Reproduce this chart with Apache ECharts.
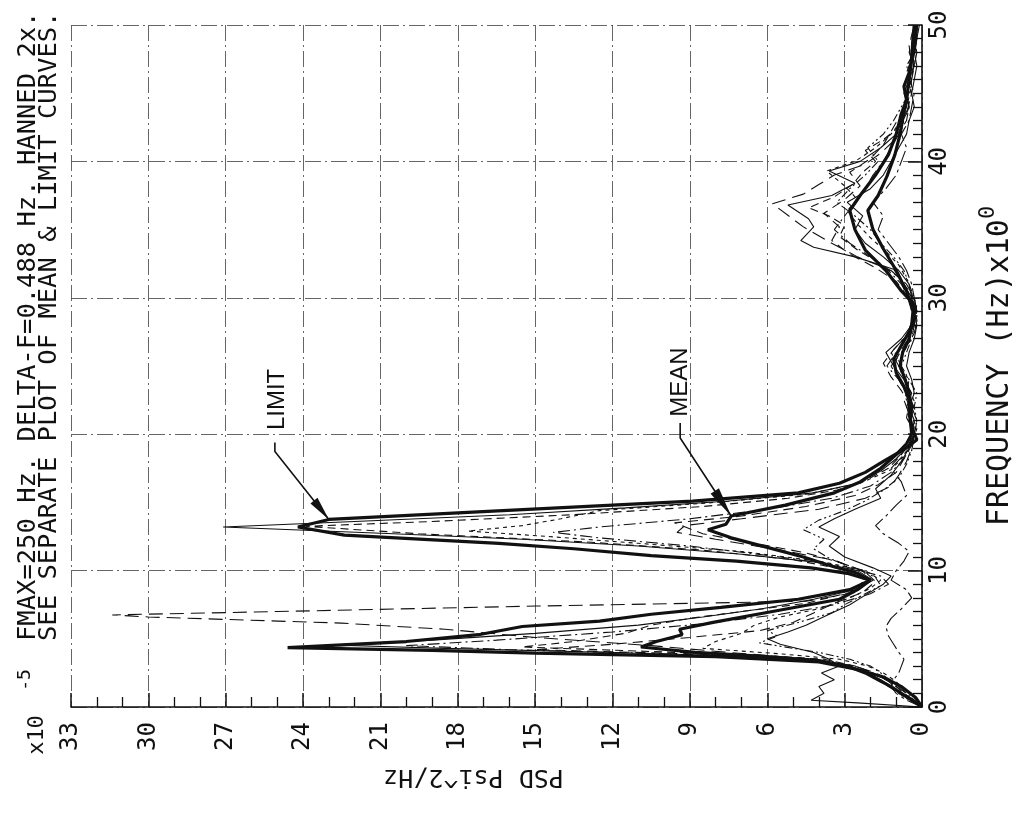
<!DOCTYPE html>
<html>
<head>
<meta charset="utf-8">
<script src="https://cdn.jsdelivr.net/npm/echarts@6/dist/echarts.min.js"></script>
<style>
  html, body { margin: 0; padding: 0; background: #fff; }
  #chart { width: 1018px; height: 813px; }
</style>
</head>
<body>
<div id="chart"></div>
<script>
// PSD curves as [frequency (Hz x10), PSD (x10^-5 psi^2/Hz)]
const run1 = [[0,0],[0.5,0.3],[1,0.6],[1.5,0.9],[2,1.3],[2.5,1.8],[3,2.6],[3.5,4.2],[4,7.5],[4.5,10.5],[5.1,15],[5.7,18.5],[6.15,22.5],[6.6,30],[6.75,31.4],[7.0,25],[7.4,15],[7.75,4.5],[8.4,2.6],[9.3,2.0],[10,2.3],[10.8,3.5],[11.5,5.5],[12.3,8],[12.8,9.5],[13.3,9.2],[13.8,7],[14.5,4],[15.3,2.2],[16.2,1.2],[17,0.9],[18,0.6],[19,0.4],[20,0.3],[21,0.5],[22,0.3],[23,0.6],[24,0.9],[25,1.2],[26,0.8],[27,0.4],[28,0.3],[29,0.2],[30,0.3],[31,0.6],[32,1.2],[33,2.5],[34,3.5],[35.2,4.6],[36.9,5.8],[37.6,4.6],[38.3,4.0],[39,3.4],[39.8,2.2],[40.6,1.6],[41.5,1.1],[42.5,0.8],[44,0.5],[45,0.6],[46,0.4],[47.5,0.3],[49,0.2],[50,0.2]];
const run2 = [[0,0],[0.5,0.4],[1,0.8],[1.5,1.2],[2,1.6],[2.5,2.1],[3,2.8],[3.4,4],[3.7,6.5],[4.0,12],[4.3,18.5],[4.55,22.9],[4.9,19],[5.4,15],[6,11],[6.6,8.5],[7.2,6.2],[7.9,4.2],[8.6,2.6],[9.3,1.9],[10,2.5],[10.6,4],[11.2,7],[11.8,11],[12.3,15.5],[12.7,20.5],[13.2,27.1],[13.6,22],[14.1,16],[14.6,11.5],[15.1,7.5],[15.7,4.2],[16.4,2.5],[17.3,1.6],[18.2,1.0],[19,0.6],[20,0.3],[21,0.4],[22,0.6],[23,0.4],[24,0.7],[25,1.1],[26,1.4],[27,0.8],[28,0.4],[29,0.3],[30,0.4],[31,0.7],[32.1,1.1],[33.0,2.6],[33.7,4.2],[34.2,4.7],[35.2,4.2],[35.8,4.4],[36.8,5.2],[37.5,3.5],[38.4,2.6],[39.3,3.6],[40,2.4],[41,1.6],[42,1.0],[43,0.8],[44,0.5],[45,0.7],[46,0.5],[47,0.3],[48.5,0.4],[50,0.3]];
const run3 = [[0,0],[0.5,0.3],[1,0.7],[1.5,1.0],[2,1.4],[2.5,1.9],[3,2.6],[3.5,3.8],[3.8,6.5],[4.1,11],[4.4,15.5],[4.8,13.5],[5.4,11.5],[6,10.5],[6.5,9],[7,7],[7.6,4.5],[8.4,2.8],[9.3,2.2],[10,2.8],[10.8,5],[11.5,8.5],[12.1,13],[12.7,19.5],[13.25,23.9],[13.6,19],[14.1,13.5],[14.7,8.5],[15.3,5.2],[15.9,3.3],[16.6,2.2],[17.5,1.3],[18.5,0.8],[19.5,0.4],[20.5,0.3],[21.5,0.5],[22.5,0.7],[23.5,0.5],[24.5,0.8],[25.5,1.0],[26.5,0.7],[27.5,0.4],[28.5,0.3],[29.5,0.2],[30.5,0.5],[31.5,0.9],[32.5,1.6],[33.5,2.5],[34.5,3.2],[35.3,3.0],[36,3.6],[36.6,4.4],[37.4,3.4],[38.3,2.7],[39.2,2.3],[40,1.8],[40.8,2.2],[41.6,1.5],[42.5,0.9],[43.5,0.6],[45,0.4],[46.5,0.6],[48,0.3],[50,0.2]];
const run4 = [[0,0],[0.5,0.2],[1,0.5],[1.5,0.8],[2,1.1],[2.5,1.5],[3,2.1],[3.5,3.2],[3.9,5.5],[4.3,8.5],[4.8,8],[5.4,7],[6,6.5],[6.6,5.5],[7.2,4],[8,2.8],[8.7,2.0],[9.3,1.6],[10,2.2],[10.7,4],[11.4,7],[12,11],[12.5,14.5],[12.9,17.6],[13.3,15.5],[13.8,14],[14.4,12.5],[15,8],[15.6,4.5],[16.4,2.4],[17.4,1.2],[18.4,0.7],[19.4,0.4],[20.4,0.2],[21.4,0.4],[22.4,0.3],[23.4,0.5],[24.4,0.7],[25.4,0.9],[26.4,0.6],[27.4,0.3],[28.4,0.2],[29.4,0.3],[30.4,0.4],[31.4,0.6],[32.4,0.9],[33.4,1.4],[34.4,2.0],[35.4,2.5],[36.4,2.9],[37.2,2.5],[38.2,3.0],[39.3,3.7],[40,2.6],[41,1.8],[42,1.2],[43,0.8],[44,0.6],[45.5,0.4],[47,0.5],[48.5,0.3],[50,0.2]];
const run5 = [[0,0],[0.5,0.3],[1,0.6],[1.5,1.0],[2,1.4],[2.5,1.9],[3,2.6],[3.5,4.5],[3.9,10],[4.2,16],[4.5,20],[4.9,16.5],[5.5,12],[6.1,8.5],[6.8,5.5],[7.5,3.4],[8.3,2.0],[9,1.3],[9.6,1.6],[10.3,3],[11,5.5],[11.8,9],[12.4,12.5],[12.8,14.3],[13.2,12.5],[13.8,9],[14.5,6],[15.3,3.5],[16.2,2.0],[17.2,1.2],[18.2,0.7],[19.2,0.4],[20.2,0.3],[21,0.5],[22,0.4],[23,0.6],[24,0.9],[25,1.36],[26,1.0],[27,0.6],[28,0.3],[29,0.4],[30,0.5],[31,0.8],[32,1.3],[33,2.0],[34,2.8],[35,3.4],[36,3.0],[37,2.6],[38,2.2],[39,1.9],[40,1.5],[41,1.2],[42,0.9],[43,0.6],[44,0.5],[45,0.6],[46,0.4],[47,0.3],[48,0.5],[49,0.3],[50,0.2]];
const run6 = [[0,0],[0.3,2.5],[0.5,4.3],[1.0,3.8],[1.5,4.0],[2.0,3.4],[2.5,3.9],[3.0,3.2],[3.5,3.6],[4.0,4.2],[4.6,5.5],[5.0,6.0],[5.5,5.2],[6.0,4.5],[6.8,3.6],[7.5,2.8],[8.2,2.2],[9.0,1.5],[9.6,1.2],[10.2,1.9],[11,3.0],[11.8,3.6],[12.5,3.2],[13.2,4.0],[13.8,3.4],[14.5,2.6],[15.3,1.6],[16,1.8],[17,1.2],[18,0.8],[19,0.5],[20,0.4],[21,0.3],[22,0.5],[23,0.3],[24,0.4],[25,0.6],[26,0.5],[27,0.3],[28,0.2],[29,0.3],[30,0.4],[31,0.5],[32,0.9],[33,1.5],[34,2.2],[35,2.6],[36,2.3],[37,2.9],[38,2.0],[39,1.5],[40,1.2],[41,0.9],[42,0.6],[43,0.5],[44,0.3],[45,0.4],[46,0.3],[47,0.2],[48,0.3],[49,0.2],[50,0.1]];
const run7 = [[0,0],[0.5,0.6],[1,1.0],[1.5,1.2],[2,1.1],[2.5,0.9],[3,0.8],[3.5,0.7],[4,0.9],[4.6,1.1],[5.2,1.3],[5.9,1.4],[6.5,1.2],[7.2,0.8],[8,0.4],[8.6,0.6],[9.3,1.2],[10,1.0],[10.7,0.7],[11.4,0.5],[12,0.9],[12.7,1.5],[13.3,1.8],[14,1.4],[14.8,1.0],[15.5,0.6],[16.5,0.8],[17.5,1.2],[18.3,0.8],[19,0.5],[20,0.3],[21,0.2],[22,0.4],[23,0.6],[24,0.5],[25,0.9],[26,1.2],[27,0.7],[28,0.3],[29,0.2],[30,0.3],[31,0.4],[32,0.6],[33,0.9],[34,1.3],[35,1.7],[36,1.5],[37,1.9],[38,1.4],[39,1.0],[40,0.8],[41,0.6],[42,0.8],[43,0.5],[44,0.4],[45,0.3],[46,0.5],[47,0.3],[48,0.2],[49,0.3],[50,0.2]];
const run8 = [[0,0],[0.5,0.4],[1,0.9],[1.5,1.3],[2,1.7],[2.5,2.2],[3,3.0],[3.5,4.6],[3.9,9],[4.2,15],[4.6,12],[5.1,9],[5.6,6.3],[6.2,5],[6.9,4.2],[7.6,3.4],[8.4,2.3],[9.2,1.8],[9.9,2.2],[10.6,3.2],[11.3,4.5],[12,6.5],[12.7,8.5],[13.5,9.6],[14,7],[14.7,4.5],[15.5,2.6],[16.3,1.7],[17.2,1.0],[18.2,0.7],[19.2,0.4],[20.2,0.3],[21.2,0.6],[22.2,0.5],[23.2,0.8],[24.2,1.2],[25.2,1.5],[26.2,1.1],[27.2,0.6],[28.2,0.4],[29.2,0.3],[30.2,0.6],[31.2,1.0],[32.2,1.8],[33.2,2.8],[34.2,3.5],[35.2,3.2],[36.2,3.8],[37.2,3.0],[38.2,2.4],[39.2,2.8],[40.2,2.0],[41.2,1.5],[42.2,1.2],[43.2,0.9],[44.2,0.6],[45.5,0.5],[47,0.4],[48.5,0.5],[50,0.3]];
const run9 = [[0,0],[0.5,0.5],[1,0.9],[1.5,1.1],[2,1.3],[2.5,1.6],[3,2.0],[3.5,2.8],[4,4.0],[4.7,6.3],[5.2,5.6],[5.6,6.0],[6.2,4.8],[6.9,3.5],[7.5,3.0],[8.2,2.3],[8.9,1.6],[9.5,1.8],[10.2,2.6],[10.9,3.6],[11.6,4.2],[12.3,3.8],[13,4.6],[13.7,4.0],[14.4,3.0],[15.1,2.2],[15.9,1.5],[16.8,0.9],[17.8,0.6],[18.8,0.4],[19.8,0.3],[21,0.2],[22,0.3],[23,0.2],[24,0.5],[25,0.8],[26,0.6],[27,0.4],[28,0.2],[29,0.2],[30,0.3],[31,0.5],[32,0.7],[33,1.1],[34,1.6],[35,2.0],[36,2.6],[37,3.3],[38,2.8],[39,2.2],[40,1.7],[41,2.1],[42,1.5],[43,1.1],[44,0.8],[45,0.5],[46,0.4],[47,0.6],[48,0.3],[49,0.2],[50,0.2]];
const meanCurve = [[0,0],[0.5,0.4],[1,0.8],[1.5,1.2],[2,1.7],[2.5,2.2],[3,2.9],[3.4,4.0],[3.7,6.0],[4.0,8.8],[4.4,10.9],[4.8,10.3],[5.3,9.3],[5.7,9.4],[6.2,8.1],[7.0,5.8],[7.9,3.2],[8.6,2.5],[9.3,2.0],[9.8,2.5],[10.3,3.45],[11.0,4.6],[11.7,6.0],[12.4,7.4],[13.0,8.3],[13.4,7.6],[14.0,7.4],[14.8,5.3],[15.7,3.4],[16.5,2.4],[17.5,1.6],[18.5,1.0],[19.3,0.6],[20,0.4],[21,0.45],[22,0.4],[23,0.5],[24,0.65],[25,0.85],[26,0.75],[27,0.5],[28,0.4],[29,0.35],[30.4,0.58],[32,1.0],[33.6,1.5],[35,1.9],[36.4,2.1],[37.5,1.7],[38.9,1.36],[40.5,1.05],[42,0.85],[43.2,0.74],[44.5,0.6],[46,0.5],[47.5,0.4],[49,0.35],[50,0.3]];
const limitCurve = [[0,0],[0.7,0.25],[1.5,0.8],[2.2,1.5],[2.8,2.6],[3.3,4.0],[3.7,8],[3.95,15],[4.15,19],[4.35,24.6],[4.8,20],[5.3,17.2],[5.9,15.5],[6.3,12.5],[6.8,10.5],[7.3,7.8],[7.9,4.8],[8.6,2.8],[9.3,2.0],[9.8,2.9],[10.2,4.3],[10.7,7.2],[11.1,10.5],[11.6,13.5],[12.0,16.4],[12.6,22.4],[13.2,24.2],[13.75,23.0],[14.5,15.1],[15.1,8.9],[15.7,4.8],[16.4,3.2],[17.2,2.2],[18.0,1.5],[19.0,0.6],[19.6,0.2],[20.5,0.4],[21.5,0.5],[22.5,0.5],[23.5,0.7],[24.5,1.0],[25.5,1.1],[26.5,0.8],[27.5,0.5],[28.5,0.3],[29.5,0.3],[30.5,0.8],[32,1.4],[33.5,2.2],[35,2.6],[36.4,2.8],[37.5,2.4],[39,1.8],[40.5,1.3],[42,1.0],[43.5,0.8],[44.5,0.6],[45.5,0.7],[46.5,0.5],[47.5,0.4],[48.5,0.3],[50,0.2]];

// Axis ranges and tick spacing
const psdRange = [0, 33];
const psdStep = 3;
const freqRange = [0, 50];
const freqStep = 10;

const titleLines = [
  'FMAX=250 Hz. DELTA-F=0.488 Hz. HANNED 2x.',
  'SEE SEPARATE PLOT OF MEAN & LIMIT CURVES.'
];
const psdAxisName = 'PSD Psi^2/Hz';
const freqAxisName = 'FREQUENCY (Hz)x10';

const runs = [
  { data: run1, dash: [14, 7] },
  { data: run2, dash: 'solid' },
  { data: run3, dash: [8, 5] },
  { data: run4, dash: [4, 4] },
  { data: run5, dash: [12, 4, 2, 4] },
  { data: run6, dash: 'solid' },
  { data: run7, dash: [16, 4, 3, 4] },
  { data: run8, dash: [10, 6] },
  { data: run9, dash: [8, 3, 2, 3, 2, 3] }
];

const INK = '#111';
const MONO = 'DejaVu Sans Mono';
const gridDash = [16, 4, 2, 4];

const chart = echarts.init(document.getElementById('chart'), null, { renderer: 'canvas' });

const toXY = pts => pts.map(([f, p]) => [p, f]);

const series = runs.map(r => ({
  type: 'line',
  data: toXY(r.data),
  symbol: 'none',
  silent: true,
  lineStyle: { color: INK, width: 1.1, type: r.dash },
  z: 2
}));
series.push({
  type: 'line', name: 'LIMIT', data: toXY(limitCurve), symbol: 'none', silent: true,
  lineStyle: { color: INK, width: 3.2, type: 'solid' }, z: 3
});
series.push({
  type: 'line', name: 'MEAN', data: toXY(meanCurve), symbol: 'none', silent: true,
  lineStyle: { color: INK, width: 3.2, type: 'solid' }, z: 3
});

chart.setOption({
  backgroundColor: '#fff',
  animation: false,
  grid: { left: 71, right: 96, top: 25, bottom: 106, containLabel: false, outerBoundsMode: 'none' },
  xAxis: {
    type: 'value',
    inverse: true,
    position: 'bottom',
    min: psdRange[0], max: psdRange[1], interval: psdStep,
    name: psdAxisName,
    nameLocation: 'middle',
    nameRotate: 180,
    nameGap: 57,
    nameTextStyle: { fontFamily: MONO, fontSize: 25, color: INK, padding: [0, 0, 0, 46] },
    axisLine: { show: true, lineStyle: { color: INK, width: 1.6 } },
    axisTick: { show: true, inside: true, length: 14, lineStyle: { color: INK, width: 1.5 } },
    minorTick: { show: true, splitNumber: 3, length: 10, lineStyle: { color: INK, width: 1.3 } },
    axisLabel: { rotate: 90, margin: 15, fontFamily: MONO, fontSize: 24, color: INK },
    splitLine: { show: true, lineStyle: { color: '#555', width: 0.9, type: gridDash } }
  },
  yAxis: {
    type: 'value',
    position: 'right',
    min: freqRange[0], max: freqRange[1], interval: freqStep,
    name: freqAxisName + '{e|0}',
    nameLocation: 'middle',
    nameRotate: 90,
    nameGap: 55,
    nameTextStyle: {
      fontFamily: MONO, fontSize: 30, color: INK, lineHeight: 46,
      rich: { e: { fontFamily: MONO, fontSize: 22, color: INK, verticalAlign: 'top', lineHeight: 22 } }
    },
    axisLine: { show: true, lineStyle: { color: INK, width: 1.6 } },
    axisTick: { show: true, inside: true, length: 14, lineStyle: { color: INK, width: 1.5 } },
    minorTick: { show: true, splitNumber: 10, length: 9, lineStyle: { color: INK, width: 1.3 } },
    axisLabel: { rotate: 90, margin: 6, fontFamily: MONO, fontSize: 24, color: INK },
    splitLine: { show: true, lineStyle: { color: '#555', width: 0.9, type: gridDash } }
  },
  series: series
});

// Annotations: rotated titles, exponent, and LIMIT / MEAN call-outs
function arrowHead(tip, from, len, half) {
  const dx = tip[0] - from[0], dy = tip[1] - from[1];
  const d = Math.hypot(dx, dy);
  const ux = dx / d, uy = dy / d;
  const bx = tip[0] - ux * len, by = tip[1] - uy * len;
  return [[tip[0], tip[1]], [bx - uy * half, by + ux * half], [bx + uy * half, by - ux * half]];
}

function callout(label, tipData, knee, start, textPos, headLen, headHalf) {
  const tip = chart.convertToPixel({ gridIndex: 0 }, [tipData[1], tipData[0]]);
  const k = [tip[0] + knee[0], tip[1] + knee[1]];
  const s = [tip[0] + start[0], tip[1] + start[1]];
  return [
    { type: 'polyline', shape: { points: [s, k, tip] }, style: { stroke: INK, lineWidth: 1.6, fill: null }, z: 10 },
    { type: 'polygon', shape: { points: arrowHead(tip, k, headLen, headHalf) }, style: { fill: INK }, z: 10 },
    {
      type: 'text', x: tip[0] + textPos[0], y: tip[1] + textPos[1], rotation: Math.PI / 2,
      style: { text: label, font: '24px "Liberation Sans"', fill: INK, align: 'center', verticalAlign: 'middle' }, z: 10
    }
  ];
}

const origin = chart.convertToPixel({ gridIndex: 0 }, [psdRange[1], freqRange[0]]);
const graphics = [
  {
    type: 'text', x: 28.5, y: 641, rotation: Math.PI / 2,
    style: { text: titleLines[0], font: '25.5px "' + MONO + '"', fill: INK, align: 'left', verticalAlign: 'middle' }
  },
  {
    type: 'text', x: 49.5, y: 641, rotation: Math.PI / 2,
    style: { text: titleLines[1], font: '25.5px "' + MONO + '"', fill: INK, align: 'left', verticalAlign: 'middle' }
  },
  {
    type: 'text', x: origin[0] - 34, y: origin[1] + 28, rotation: Math.PI / 2,
    style: { text: 'x10', font: '22px "' + MONO + '"', fill: INK, align: 'center', verticalAlign: 'middle' }
  },
  {
    type: 'text', x: origin[0] - 46, y: origin[1] - 27, rotation: Math.PI / 2,
    style: { text: '-5', font: '18px "' + MONO + '"', fill: INK, align: 'center', verticalAlign: 'middle' }
  }
].concat(
  callout('LIMIT', [13.75, 23.0], [-54, -68], [-54, -77], [-52, -120], 24, 4.5),
  callout('MEAN', [14.0, 7.4], [-51, -78], [-51, -93], [-51, -134], 30, 5)
);

chart.setOption({ graphic: graphics });
</script>
</body>
</html>
